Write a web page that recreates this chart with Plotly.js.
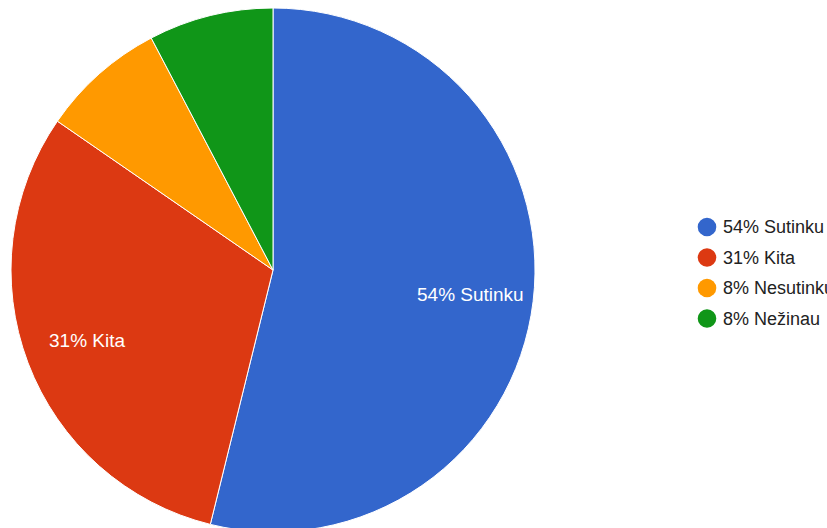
<!DOCTYPE html>
<html>
<head>
<meta charset="utf-8">
<script src="https://cdn.plot.ly/plotly-3.0.1.min.js"></script>
<style>
html,body{margin:0;padding:0;overflow:hidden;background:#fff;}
#chart{width:827px;height:540px;}
</style>
</head>
<body>
<div id="chart"></div>
<script>
// Data
const categories = ["Sutinku", "Kita", "Nesutinku", "Nežinau"];
const counts = [7, 4, 1, 1];
const colors = ["#3366cc", "#dc3912", "#ff9900", "#109618"];
const minLabelPercent = 10; // slices below this share show no inside label

const total = counts.reduce((a, b) => a + b, 0);
const pctLabels = counts.map((v, i) => Math.round(v / total * 100) + "% " + categories[i]);

const W = 827, H = 540, MT = 8;
const plotH = H - MT;
const pieX0 = 11, pieX1 = 535, pieTop = 8, pieBottom = 532;
const cx = (pieX0 + pieX1) / 2, cy = (pieTop + pieBottom) / 2, R = (pieX1 - pieX0) / 2;
const labelRadiusFrac = 0.76;

const trace = {
  type: "pie",
  values: counts,
  labels: categories,
  textinfo: "none",
  sort: false,
  direction: "clockwise",
  rotation: 0,
  marker: { colors: colors, line: { color: "#ffffff", width: 1 } },
  hoverinfo: "label+percent",
  showlegend: false,
  domain: { x: [pieX0 / W, pieX1 / W], y: [(H - pieBottom) / plotH, 1] }
};

const shapes = [], annotations = [];

// Slice labels, placed along each slice's mid-angle
let cum = 0;
counts.forEach((v, i) => {
  const frac = v / total;
  const mid = (cum + frac / 2) * 2 * Math.PI;
  cum += frac;
  if (frac * 100 < minLabelPercent) return;
  const px = cx + labelRadiusFrac * R * Math.sin(mid);
  const py = cy - labelRadiusFrac * R * Math.cos(mid);
  annotations.push({
    xref: "paper", yref: "paper", x: px / W, y: (H - py) / plotH,
    xanchor: "center", yanchor: "middle", showarrow: false,
    text: pctLabels[i], font: { family: "Liberation Sans, Arial, sans-serif", size: 19, color: "#ffffff" }
  });
});

// Custom legend with round markers
const legendX = 707, legendTextX = 721, legendY0 = 227, legendDy = 30.5;
pctLabels.forEach((lab, i) => {
  const py = legendY0 + i * legendDy;
  const yp = (H - py) / plotH;
  shapes.push({
    type: "circle", xref: "paper", yref: "paper",
    xsizemode: "pixel", ysizemode: "pixel",
    xanchor: legendX / W, yanchor: yp,
    x0: -9.3, x1: 9.3, y0: -9.3, y1: 9.3,
    fillcolor: colors[i], line: { width: 0 }
  });
  annotations.push({
    xref: "paper", yref: "paper", x: legendTextX / W, y: yp,
    xanchor: "left", yanchor: "middle", showarrow: false,
    text: lab, font: { family: "Liberation Sans, Arial, sans-serif", size: 18, color: "#222222" }
  });
});

const layout = {
  width: W, height: H,
  margin: { l: 0, r: 0, t: MT, b: 0 },
  paper_bgcolor: "#ffffff",
  showlegend: false,
  shapes: shapes,
  annotations: annotations
};

Plotly.newPlot("chart", [trace], layout, { displayModeBar: false, staticPlot: true });
</script>
</body>
</html>
